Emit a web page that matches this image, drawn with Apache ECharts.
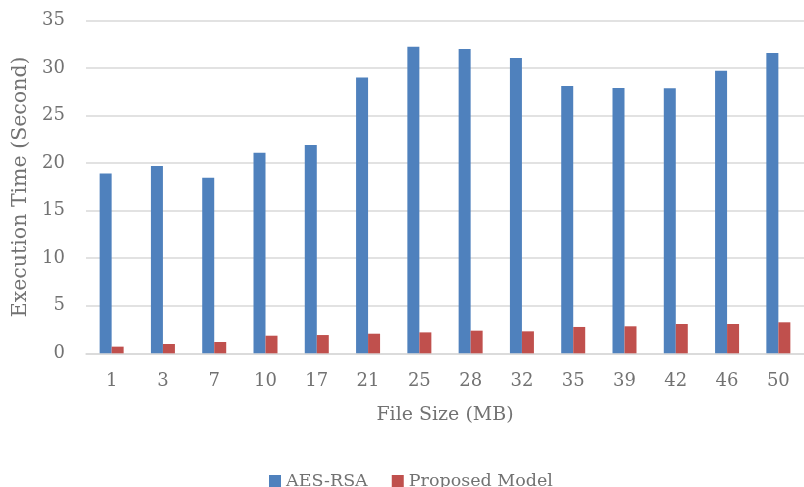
<!DOCTYPE html>
<html><head><meta charset="utf-8">
<script src="https://cdn.jsdelivr.net/npm/echarts@6/dist/echarts.min.js"></script>
<style>html,body{margin:0;padding:0;background:#fff}#c{width:804px;height:487px}</style>
</head><body><div id="c"></div>
<script>
const categories = ['1','3','7','10','17','21','25','28','32','35','39','42','46','50'];
const aesRsa = [18.9, 19.7, 18.45, 21.1, 21.9, 29.0, 32.25, 32.0, 31.05, 28.1, 27.9, 27.87, 29.72, 31.58];
const proposed = [0.7, 0.98, 1.19, 1.85, 1.92, 2.06, 2.2, 2.38, 2.31, 2.77, 2.84, 3.08, 3.08, 3.26];
const yTicks = { min: 0, max: 35, interval: 5 };

const font = '"DejaVu Serif", serif';
const txt = '#727272';
const chart = echarts.init(document.getElementById('c'));
chart.setOption({
  animation: false,
  textStyle: { fontFamily: font },
  grid: { left: 86, right: -10, top: 20.5, bottom: 133.7 },
  legend: {
    left: 264, top: 467, itemWidth: 12, itemHeight: 12, itemGap: 24,
    icon: 'rect',
    textStyle: { fontFamily: font, fontSize: 17.5, color: txt },
    data: ['AES-RSA', 'Proposed Model']
  },
  xAxis: {
    type: 'category', data: categories,
    name: 'File Size (MB)', nameLocation: 'middle', nameGap: 52,
    nameTextStyle: { fontFamily: font, fontSize: 19, color: txt },
    axisLine: { lineStyle: { color: '#d9d9d9', width: 1.5 } },
    axisTick: { show: false },
    axisLabel: { fontFamily: font, fontSize: 18, color: txt, margin: 19 }
  },
  yAxis: {
    type: 'value', min: yTicks.min, max: yTicks.max, interval: yTicks.interval,
    name: 'Execution Time (Second)', nameLocation: 'middle', nameGap: 53,
    nameTextStyle: { fontFamily: font, fontSize: 20.5, color: txt },
    axisLine: { show: false }, axisTick: { show: false },
    axisLabel: { fontFamily: font, fontSize: 18, color: txt, margin: 21 },
    splitLine: { lineStyle: { color: '#d9d9d9', width: 1.5 } }
  },
  series: [
    { name: 'AES-RSA', type: 'bar', data: aesRsa, barWidth: 12, barGap: '0%',
      itemStyle: { color: '#4F81BD' } },
    { name: 'Proposed Model', type: 'bar', data: proposed, barWidth: 12,
      itemStyle: { color: '#C0504D' } }
  ]
});
</script></body></html>
